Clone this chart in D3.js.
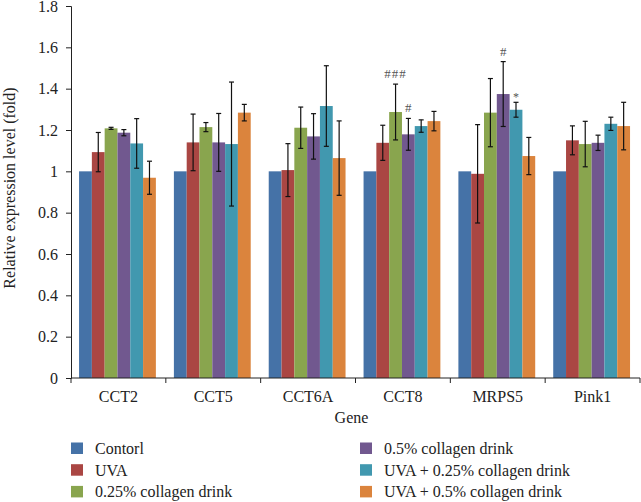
<!DOCTYPE html>
<html>
<head>
<meta charset="utf-8">
<script src="https://cdn.jsdelivr.net/npm/d3@7"></script>
<style>
  body { margin: 0; background: #fff; }
  text { font-family: "Liberation Serif", "DejaVu Serif", serif; fill: #222; }
</style>
</head>
<body>
<div class="chart"></div>
<script>
var svgWidth = 641;
var svgHeight = 502;

var margin = { top: 6, right: 1, bottom: 124, left: 71 };
var width = svgWidth - margin.left - margin.right;
var height = svgHeight - margin.top - margin.bottom;

// data
var genes = ["CCT2", "CCT5", "CCT6A", "CCT8", "MRPS5", "Pink1"];
var groups = ["Contorl", "UVA", "0.25% collagen drink", "0.5% collagen drink",
  "UVA + 0.25% collagen drink", "UVA + 0.5% collagen drink"];
var colors = ["#4572a7", "#aa4643", "#89a54e", "#71588f", "#4198af", "#db843d"];

// one array per group, values per gene
var contorl = [1, 1, 1, 1, 1, 1];
var uva = [1.093, 1.14, 1.006, 1.138, 0.988, 1.15];
var col025 = [1.208, 1.214, 1.211, 1.287, 1.284, 1.132];
var col05 = [1.187, 1.14, 1.169, 1.179, 1.374, 1.138];
var uvaCol025 = [1.135, 1.132, 1.316, 1.219, 1.298, 1.23];
var uvaCol05 = [0.969, 1.284, 1.064, 1.243, 1.074, 1.219];

// error (+/-)
var errContorl = [0, 0, 0, 0, 0, 0];
var errUva = [0.095, 0.137, 0.128, 0.085, 0.238, 0.07];
var errCol025 = [0.005, 0.022, 0.10, 0.135, 0.165, 0.11];
var errCol05 = [0.015, 0.14, 0.11, 0.077, 0.157, 0.037];
var errUvaCol025 = [0.12, 0.30, 0.195, 0.03, 0.036, 0.032];
var errUvaCol05 = [0.08, 0.04, 0.18, 0.047, 0.09, 0.115];

var values = [contorl, uva, col025, col05, uvaCol025, uvaCol05];
var errors = [errContorl, errUva, errCol025, errCol05, errUvaCol025, errUvaCol05];

var yTicks = [0, 0.2, 0.4, 0.6, 0.8, 1, 1.2, 1.4, 1.6, 1.8];

// significance marks: gene, group index, label
var marks = [
  { gene: "CCT8", group: 2, label: "###" },
  { gene: "CCT8", group: 3, label: "#" },
  { gene: "MRPS5", group: 3, label: "#" },
  { gene: "MRPS5", group: 4, label: "*" }
];

var rows = [];
genes.forEach(function(g, i) {
  groups.forEach(function(s, j) {
    rows.push({ gene: g, group: j, value: values[j][i], err: errors[j][i] });
  });
});

var svg = d3.select(".chart")
  .append("svg")
  .attr("width", svgWidth)
  .attr("height", svgHeight);

var chartGroup = svg.append("g")
  .attr("transform", `translate(${margin.left}, ${margin.top})`);

var x0 = d3.scaleBand().domain(genes).range([0, width]).padding(0);
var x1 = d3.scaleBand().domain(d3.range(groups.length))
  .range([x0.bandwidth() * 0.085, x0.bandwidth() * 0.895]);
var y = d3.scaleLinear().domain([0, 1.8]).range([height, 0]);

// bars
chartGroup.selectAll("rect.bar")
  .data(rows)
  .enter()
  .append("rect")
  .attr("class", "bar")
  .attr("x", d => x0(d.gene) + x1(d.group))
  .attr("y", d => y(d.value))
  .attr("width", x1.bandwidth())
  .attr("height", d => height - y(d.value))
  .attr("fill", d => colors[d.group]);

// error bars
var errRows = rows.filter(d => d.err > 0);
var cx = d => x0(d.gene) + x1(d.group) + x1.bandwidth() / 2;
var eb = chartGroup.selectAll("g.err")
  .data(errRows)
  .enter()
  .append("g")
  .attr("class", "err")
  .attr("stroke", "#111")
  .attr("stroke-width", 1.2);

eb.append("line")
  .attr("x1", cx).attr("x2", cx)
  .attr("y1", d => y(d.value + d.err))
  .attr("y2", d => y(d.value - d.err));

eb.append("line")
  .attr("x1", d => cx(d) - 2.5)
  .attr("x2", d => cx(d) + 2.5)
  .attr("y1", d => y(d.value + d.err))
  .attr("y2", d => y(d.value + d.err));

eb.append("line")
  .attr("x1", d => cx(d) - 2.5)
  .attr("x2", d => cx(d) + 2.5)
  .attr("y1", d => y(d.value - d.err))
  .attr("y2", d => y(d.value - d.err));

// significance labels
chartGroup.selectAll("text.sig")
  .data(marks)
  .enter()
  .append("text")
  .attr("class", "sig")
  .attr("x", d => x0(d.gene) + x1(d.group) + x1.bandwidth() / 2)
  .attr("y", function(d) {
    var i = genes.indexOf(d.gene);
    return y(values[d.group][i] + errors[d.group][i]) - (d.label === "*" ? 1 : 6);
  })
  .attr("text-anchor", "middle")
  .style("font-size", d => d.label === "*" ? "12px" : "13px")
  .style("letter-spacing", d => d.label === "###" ? "1px" : "0px")
  .style("fill", "#555")
  .text(d => d.label);

// y axis
var leftAxis = d3.axisLeft(y).tickValues(yTicks).tickSize(5)
  .tickFormat(d3.format("~g"));
var yAxis = chartGroup.append("g").call(leftAxis);
yAxis.select(".domain").attr("stroke", "#222");
yAxis.selectAll(".tick line").attr("stroke", "#222");
yAxis.selectAll("text")
  .style("font-size", "16px")
  .attr("x", -13);

// x axis
var xAxis = chartGroup.append("g")
  .attr("transform", `translate(0, ${height})`);
xAxis.append("line")
  .attr("x1", 0).attr("x2", width)
  .attr("stroke", "#222");
xAxis.selectAll("line.tk")
  .data(genes.concat(["end"]))
  .enter()
  .append("line")
  .attr("class", "tk")
  .attr("x1", (d, i) => i < genes.length ? x0(d) : width)
  .attr("x2", (d, i) => i < genes.length ? x0(d) : width)
  .attr("y1", 0).attr("y2", 5)
  .attr("stroke", "#222");
xAxis.selectAll("text.cat")
  .data(genes)
  .enter()
  .append("text")
  .attr("class", "cat")
  .attr("x", d => x0(d) + x0.bandwidth() / 2)
  .attr("y", 24)
  .attr("text-anchor", "middle")
  .style("font-size", "16px")
  .text(d => d);

// axis titles
chartGroup.append("text")
  .attr("x", width / 2 - 4)
  .attr("y", height + 45)
  .attr("text-anchor", "middle")
  .style("font-size", "16px")
  .text("Gene");

chartGroup.append("text")
  .attr("transform", "rotate(-90)")
  .attr("x", -height / 2 + 4)
  .attr("y", -56)
  .attr("text-anchor", "middle")
  .style("font-size", "16px")
  .text("Relative expression level (fold)");

// legend
var legend = svg.append("g");
var items = legend.selectAll("g")
  .data(groups)
  .enter()
  .append("g")
  .attr("transform", (d, i) =>
    `translate(${i < 3 ? 71 : 360}, ${442.5 + (i % 3) * 21.7})`);
items.append("rect")
  .attr("width", 12).attr("height", 11.5)
  .attr("fill", (d, i) => colors[i]);
items.append("text")
  .attr("x", i => 24).attr("y", 11.5)
  .style("font-size", "16px")
  .text(d => d);
</script>
</body>
</html>
